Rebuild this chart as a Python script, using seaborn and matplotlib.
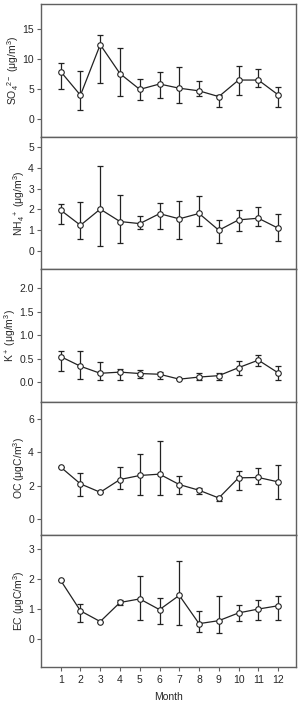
"""
Monthly mean aerosol species (SO4, NH4, K, OC, EC) with error bars.
"""

import numpy as np
import pandas as pd
import matplotlib
matplotlib.use("Agg")
import matplotlib.pyplot as plt
import seaborn as sns

# ── Data ───────────────────────────────────────────────────────────────────────
MONTHS = list(range(1, 13))

SO4_MEAN = [7.87, 3.93, 12.36, 7.53, 4.9, 5.8, 5.1, 4.66, 3.7, 6.46, 6.46, 4.0]
SO4_LO   = [4.9, 1.5, 5.96, 3.8, 3.15, 3.4, 2.6, 3.8, 1.9, 4.0, 5.3, 2.0]
SO4_HI   = [9.27, 8.03, 13.9, 11.8, 6.6, 7.75, 8.7, 6.35, 4.0, 8.8, 8.3, 5.3]

NH4_MEAN = [1.96, 1.23, 2.01, 1.41, 1.31, 1.79, 1.54, 1.8, 0.99, 1.49, 1.57, 1.09]
NH4_LO   = [1.27, 0.58, 0.24, 0.37, 1.07, 1.06, 0.55, 1.2, 0.39, 0.97, 1.2, 0.45]
NH4_HI   = [2.27, 2.34, 4.07, 2.68, 1.67, 2.29, 2.39, 2.65, 1.48, 1.98, 2.13, 1.75]

K_MEAN = [0.545, 0.34, 0.19, 0.215, 0.185, 0.17, 0.065, 0.11, 0.14, 0.31, 0.47, 0.2]
K_LO   = [0.24, 0.07, 0.04, 0.04, 0.10, 0.07, 0.065, 0.04, 0.05, 0.15, 0.35, 0.04]
K_HI   = [0.67, 0.66, 0.42, 0.29, 0.26, 0.22, 0.065, 0.19, 0.19, 0.45, 0.57, 0.35]

OC_MEAN = [3.12, 2.12, 1.62, 2.38, 2.62, 2.7, 2.08, 1.74, 1.28, 2.48, 2.5, 2.24]
OC_LO   = [3.12, 1.4, 1.62, 1.82, 1.44, 1.44, 1.5, 1.54, 1.08, 1.78, 2.12, 1.24]
OC_HI   = [3.12, 2.74, 1.62, 3.14, 3.9, 4.68, 2.56, 1.9, 1.34, 2.86, 3.04, 3.26]

EC_MEAN = [1.96, 0.94, 0.58, 1.22, 1.34, 0.98, 1.46, 0.51, 0.61, 0.87, 1.0, 1.11]
EC_LO   = [1.96, 0.55, 0.58, 1.14, 0.64, 0.5, 0.45, 0.23, 0.18, 0.6, 0.64, 0.64]
EC_HI   = [1.96, 1.16, 0.58, 1.3, 2.11, 1.36, 2.6, 0.93, 1.43, 1.14, 1.3, 1.44]

PANELS = [
    ("SO$_4$$^{2-}$ (μg/m$^3$)", SO4_MEAN, SO4_LO, SO4_HI, (-3, 19.1), [0, 5, 10, 15], "{:.0f}"),
    ("NH$_4$$^+$ (μg/m$^3$)", NH4_MEAN, NH4_LO, NH4_HI, (-0.9, 5.5), [0, 1, 2, 3, 4, 5], "{:.0f}"),
    ("K$^+$ (μg/m$^3$)", K_MEAN, K_LO, K_HI, (-0.42, 2.4), [0, 0.5, 1.0, 1.5, 2.0], "{:.1f}"),
    ("OC (μgC/m$^3$)", OC_MEAN, OC_LO, OC_HI, (-0.9, 7.0), [0, 2, 4, 6], "{:.0f}"),
    ("EC (μgC/m$^3$)", EC_MEAN, EC_LO, EC_HI, (-0.95, 3.5), [0, 1, 2, 3], "{:.0f}"),
]

# ── Style ──────────────────────────────────────────────────────────────────────
sns.set_style("ticks")
plt.rcParams["font.family"] = ["Liberation Sans", "DejaVu Sans"]
plt.rcParams["mathtext.fontset"] = "custom"
plt.rcParams["mathtext.rm"] = "Liberation Sans"
plt.rcParams["mathtext.it"] = "Liberation Sans"
FRAME = "#606060"

fig, axes = plt.subplots(5, 1, figsize=(3.01, 7.03), dpi=100, sharex=True)
fig.subplots_adjust(left=0.136, right=0.983, top=0.994, bottom=0.051, hspace=0)

for ax, (label, mean, lo, hi, ylim, yticks, fmt) in zip(axes, PANELS):
    df = pd.DataFrame({"month": MONTHS, "value": mean})
    mean_a = np.array(mean)
    yerr = [mean_a - np.array(lo), np.array(hi) - mean_a]
    ax.errorbar(MONTHS, mean, yerr=yerr, fmt="none", ecolor="#222222",
                elinewidth=0.9, capsize=2.2, capthick=0.9, zorder=2)
    sns.lineplot(data=df, x="month", y="value", ax=ax, color="#222222",
                 lw=0.9, marker="o", markersize=4, markerfacecolor="white",
                 markeredgecolor="#222222", markeredgewidth=0.8, zorder=3)
    ax.set_ylim(*ylim)
    ax.set_xlim(0, 12.9)
    ax.set_yticks(yticks)
    ax.set_yticklabels([fmt.format(t) for t in yticks], fontsize=7.5)
    ax.set_ylabel(label, fontsize=7.5, labelpad=1)
    ax.set_xlabel("")
    for s in ax.spines.values():
        s.set_color(FRAME)
        s.set_linewidth(1.0)
    ax.tick_params(axis="y", direction="out", length=3, width=0.8,
                   color=FRAME, pad=2)
    ax.tick_params(axis="x", length=0)

bottom = axes[-1]
bottom.set_xticks(MONTHS)
bottom.set_xticklabels([str(m) for m in MONTHS], fontsize=7.5)
bottom.tick_params(axis="x", direction="out", length=3, width=0.8,
                   color=FRAME, pad=3)
bottom.set_xlabel("Month", fontsize=7.5, labelpad=5)

fig.savefig("out.png", dpi=100)
